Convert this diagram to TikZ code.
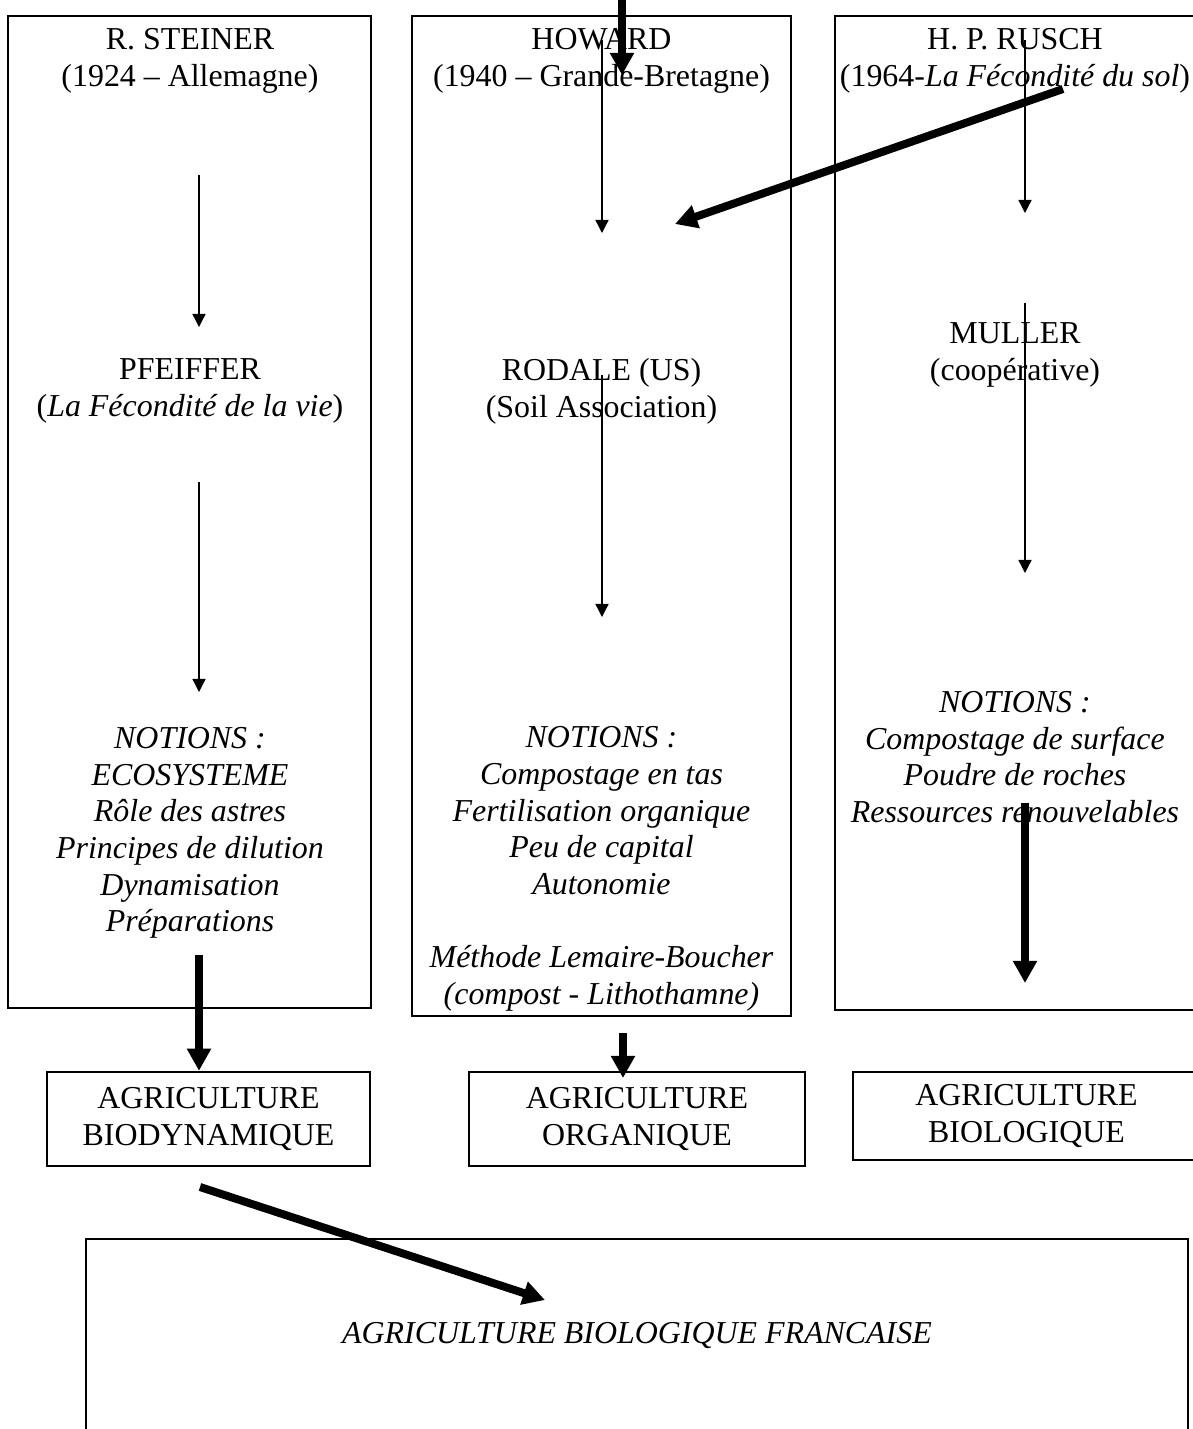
\documentclass[tikz,border=0pt]{standalone}
\usepackage{fontspec}
\setmainfont{Liberation Serif}
\usetikzlibrary{arrows.meta,positioning}
\newcommand{\pxu}{0.376pt}

\begin{document}
\begin{tikzpicture}[
  x=\pxu, y=-\pxu,
  txt/.style={align=center, inner sep=0pt, font=\fontsize{12}{13.8}\selectfont},
  ital/.style={txt, font=\fontsize{12}{13.8}\selectfont\itshape},
  frame/.style={draw, line width=0.9pt, inner sep=0pt},
  agri/.style={frame, txt},
  flow/.style={line width=0.5pt, -{Triangle[length=4.9pt, width=4.9pt]}},
  bigflow/.style={line width=3pt, -{Triangle[length=8.3pt, width=8.6pt]}}
]
\useasboundingbox (0,0) rectangle (1192,1429);

% columns
\node[frame, minimum width=363*\pxu, minimum height=992*\pxu] (colsteiner) at (189.5,512) {};
\node[frame, minimum width=379*\pxu, minimum height=1000*\pxu] (colhoward) at (601.5,516) {};
\node[frame, minimum width=361*\pxu, minimum height=994*\pxu] (colrusch) at (1015.5,513) {};

% Steiner
\node[txt] (steiner) at (190,61) {R. STEINER\\(1924 – Allemagne)};
\node[txt] (pfeiffer) at (190,391) {PFEIFFER\\(\textit{La Fécondité de la vie})};
\node[ital] (notsteiner) at (190,833) {NOTIONS :\\ECOSYSTEME\\Rôle des astres\\Principes de dilution\\Dynamisation\\Préparations};

% Howard
\node[txt] (howard) at (601.5,61) {HOWARD\\(1940 – Grande-Bretagne)};
\node[txt] (rodale) at (601.5,391) {RODALE (US)\\(Soil Association)};
\node[ital] (nothoward) at (601.5,869) {NOTIONS :\\Compostage en tas\\Fertilisation organique\\Peu de capital\\Autonomie\\[13.8pt]Méthode Lemaire-Boucher\\(compost - Lithothamne)};

% Rusch
\node[txt] (rusch) at (1015,61) {H. P. RUSCH\\(1964-\textit{La Fécondité du sol})};
\node[txt] (muller) at (1015,355) {MULLER\\(coopérative)};
\node[ital] (notrusch) at (1015,757) {NOTIONS :\\Compostage de surface\\Poudre de roches\\Ressources renouvelables};

% resulting agricultures
\node[agri, minimum width=323*\pxu, minimum height=94*\pxu] (bio) at (208.5,1119) {AGRICULTURE\\BIODYNAMIQUE};
\node[agri, minimum width=336*\pxu, minimum height=94*\pxu] (org) at (637,1119) {AGRICULTURE\\ORGANIQUE};
\node[agri, minimum width=347*\pxu, minimum height=88*\pxu] (biol) at (1026.5,1116) {AGRICULTURE\\BIOLOGIQUE};
\node[frame, ital, minimum width=1102*\pxu, minimum height=194*\pxu] (fr) at (637,1336) {AGRICULTURE BIOLOGIQUE FRANCAISE};

% arrow ends
\coordinate (s1) at (199,175);  \coordinate (s2) at (199,327);
\coordinate (s3) at (199,482);  \coordinate (s4) at (199,692);
\coordinate (s5) at (199,955);
\coordinate (h1) at (602,40);   \coordinate (h2) at (602,233);
\coordinate (h3) at (602,375);  \coordinate (h4) at (602,617);
\coordinate (r1) at (1025,40);  \coordinate (r2) at (1025,213);
\coordinate (r3) at (1025,303); \coordinate (r4) at (1025,573);
\coordinate (r5) at (1025,803); \coordinate (r6) at (1025,983);
\coordinate (top) at (622,-5);  \coordinate (topend) at (622,75);
\coordinate (rx) at (1063,89);  \coordinate (hx) at (675,224);
\coordinate (o1) at (623,1033); \coordinate (o2) at (623,1078);
\coordinate (b1) at (200,1187); \coordinate (b2) at (545,1300);

\draw[flow] (s1) -- (s2);
\draw[flow] (s3) -- (s4);
\draw[flow] (h1) -- (h2);
\draw[flow] (h3) -- (h4);
\draw[flow] (r1) -- (r2);
\draw[flow] (r3) -- (r4);

\draw[bigflow] (top) -- (topend);
\draw[bigflow] (rx) -- (hx);
\draw[bigflow] (r5) -- (r6);
\draw[bigflow] (s5) -- (s5 |- bio.north);
\draw[bigflow] (o1) -- (o2);
\draw[bigflow] (b1) -- (b2);
\end{tikzpicture}
\end{document}
